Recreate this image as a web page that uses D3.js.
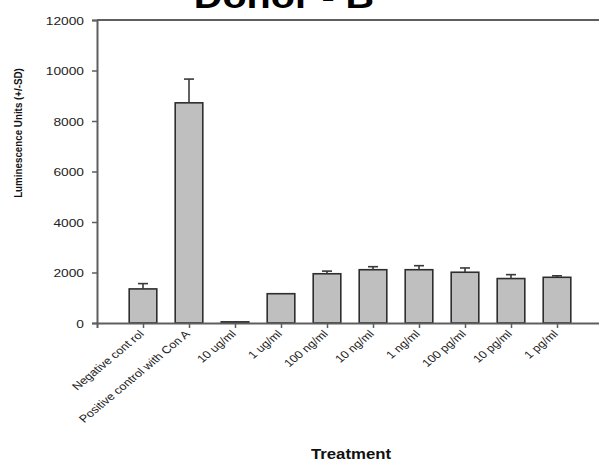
<!DOCTYPE html>
<html>
<head>
<meta charset="utf-8">
<script src="https://cdn.jsdelivr.net/npm/d3@7"></script>
<style>
  html, body { margin: 0; padding: 0; background: #fff; }
  svg { display: block; font-family: "Liberation Sans", Arial, sans-serif; }
</style>
</head>
<body>
<svg id="chart" width="599" height="465"></svg>
<script>
// Luminescence by treatment, mean with +SD
const categories = [
  "Negative cont rol", "Positive control with Con A", "10 ug/ml", "1 ug/ml",
  "100 ng/ml", "10 ng/ml", "1 ng/ml", "100 pg/ml", "10 pg/ml", "1 pg/ml"
];
const means = [1350, 8720, 45, 1160, 1950, 2110, 2110, 2010, 1760, 1810];
const sds   = [210, 940, 0, 0, 105, 120, 160, 170, 155, 60];
const yTicks = [0, 2000, 4000, 6000, 8000, 10000, 12000];

const title = "Donor - B";
const xTitle = "Treatment";
const yTitle = "Luminescence Units (+/-SD)";

const svg = d3.select("#chart");
const stretch = 1.2; // text is drawn slightly wide

const x = d3.scaleLinear().domain([0, categories.length + 1]).range([97, 603]);
const y = d3.scaleLinear().domain([0, 12000]).range([323, 20]);
const half = 0.3; // half bar width in category units

const axisColor = "#5e5e5e";

// frame top line
svg.append("line")
  .attr("x1", x(0)).attr("x2", x(categories.length + 1))
  .attr("y1", y(12000)).attr("y2", y(12000))
  .attr("stroke", axisColor).attr("stroke-width", 2);

// bars
svg.append("g").selectAll("rect")
  .data(means)
  .join("rect")
  .attr("x", (d, i) => x(i + 1 - half))
  .attr("width", (d, i) => x(i + 1 + half) - x(i + 1 - half))
  .attr("y", d => y(d))
  .attr("height", d => y(0) - y(d))
  .attr("fill", "#bfbfbf")
  .attr("stroke", "#2e2e2e")
  .attr("stroke-width", 1.6);

// error bars (upper only)
const eb = svg.append("g").attr("stroke", "#3a3a3a").attr("stroke-width", 1.6);
means.forEach((m, i) => {
  if (sds[i] <= 0) return;
  const cx = x(i + 1);
  eb.append("line").attr("x1", cx).attr("x2", cx)
    .attr("y1", y(m)).attr("y2", y(m + sds[i]));
  eb.append("line").attr("x1", cx - 5).attr("x2", cx + 5)
    .attr("y1", y(m + sds[i])).attr("y2", y(m + sds[i]));
});

// y axis
const yAxis = svg.append("g")
  .attr("transform", `translate(${x(0)},0)`)
  .call(d3.axisLeft(y).tickValues(yTicks).tickSize(5).tickPadding(0).tickFormat(d3.format("d")));
yAxis.select(".domain").attr("stroke", axisColor).attr("stroke-width", 2);
yAxis.selectAll(".tick line").attr("stroke", axisColor).attr("stroke-width", 1.5);
yAxis.selectAll(".tick text").remove();
yAxis.selectAll(".tick").append("text")
  .attr("transform", `translate(-13,4) scale(1.25,1)`)
  .attr("text-anchor", "end")
  .attr("fill", "#222")
  .attr("font-size", 11)
  .text(d => d);

// x axis
const xAxis = svg.append("g")
  .attr("transform", `translate(0,${y(0)})`)
  .call(d3.axisBottom(x).tickValues(d3.range(1, categories.length + 1)).tickSize(5).tickFormat(""));
xAxis.select(".domain").attr("stroke", axisColor).attr("stroke-width", 2);
xAxis.selectAll(".tick line").attr("stroke", axisColor).attr("stroke-width", 1.5);
xAxis.selectAll(".tick").append("text")
  .attr("transform", `translate(-2,9) scale(${stretch},1) rotate(-45)`)
  .attr("text-anchor", "end")
  .attr("fill", "#222")
  .attr("font-size", 10.6)
  .attr("dy", "0.35em")
  .text(d => categories[d - 1]);

// titles
svg.append("text")
  .attr("transform", `translate(284,8) scale(${stretch},1)`)
  .attr("text-anchor", "middle")
  .attr("font-size", 33).attr("font-weight", "bold").attr("fill", "#000")
  .text(title);

svg.append("text")
  .attr("transform", `translate(351,465) scale(${stretch},1)`)
  .attr("dy", "-0.45em")
  .attr("text-anchor", "middle")
  .attr("font-size", 14).attr("font-weight", "bold").attr("fill", "#111")
  .text(xTitle);

svg.append("text")
  .attr("transform", `translate(22,133) scale(${stretch},1) rotate(-90)`)
  .attr("text-anchor", "middle")
  .attr("font-size", 9.8).attr("font-weight", "bold").attr("fill", "#111")
  .text(yTitle);
</script>
</body>
</html>
